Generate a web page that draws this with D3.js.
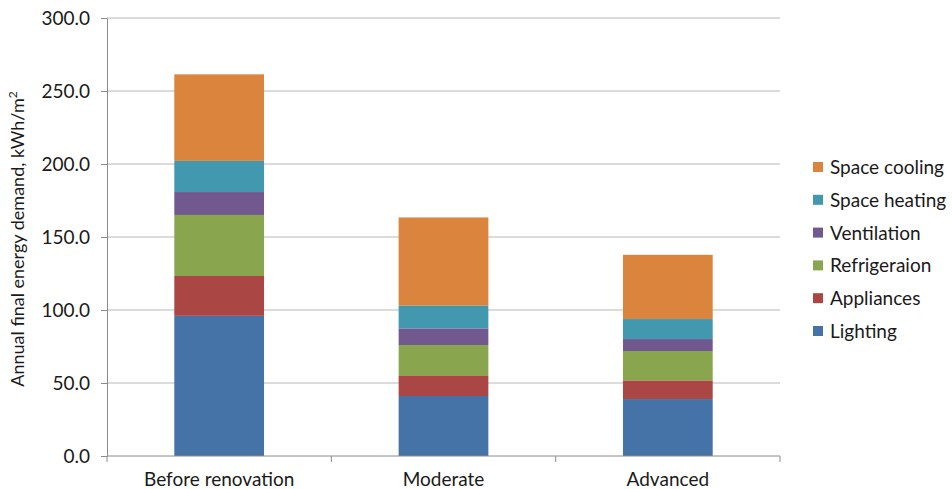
<!DOCTYPE html>
<html>
<head>
<meta charset="utf-8">
<script src="https://cdn.jsdelivr.net/npm/d3@7"></script>
<style>
  html, body { margin: 0; padding: 0; background: #fff; }
  svg { display: block; font-family: Lato, "Open Sans", sans-serif; }
</style>
</head>
<body>
<svg id="chart" width="952" height="489"></svg>
<script>
// Scenarios and end uses (kWh/m² per year)
const categories = ["Before renovation", "Moderate", "Advanced"];
const seriesNames = ["Lighting", "Appliances", "Refrigeraion", "Ventilation", "Space heating", "Space cooling"];
const lighting     = [96.0, 41.1, 39.0];
const appliances   = [27.3, 13.7, 12.8];
const refrigeration = [41.8, 21.2, 20.1];
const ventilation  = [15.7, 11.4, 8.2];
const spaceHeating = [21.3, 15.7, 13.7];
const spaceCooling = [59.3, 60.3, 44.0];
const yTicks = [0, 50, 100, 150, 200, 250, 300];
const colors = ["#4572A7", "#AA4643", "#89A54E", "#71588F", "#4198AF", "#DB843D"];

const seriesValues = [lighting, appliances, refrigeration, ventilation, spaceHeating, spaceCooling];
const rows = categories.map((c, i) => {
  const r = { category: c };
  seriesNames.forEach((s, k) => { r[s] = seriesValues[k][i]; });
  return r;
});

const svg = d3.select("#chart");
const margin = { left: 107, right: 172, top: 18, bottom: 33 };
const W = 952, H = 489;
const textColor = "#1a1a1a";

const x = d3.scaleBand().domain(categories)
  .range([margin.left, W - margin.right]).paddingInner(0.6).paddingOuter(0.3);
const y = d3.scaleLinear().domain([0, 300]).range([H - margin.bottom, margin.top]);

// Horizontal gridlines
svg.append("g").selectAll("line").data(yTicks.filter(t => t > 0)).join("line")
  .attr("x1", margin.left).attr("x2", W - margin.right)
  .attr("y1", d => y(d)).attr("y2", d => y(d))
  .attr("stroke", "#b8b8b8").attr("stroke-width", 1);

// Y axis
const yAxis = svg.append("g").attr("transform", `translate(${margin.left},0)`)
  .call(d3.axisLeft(y).tickValues(yTicks).tickFormat(d3.format(".1f")).tickSize(6).tickSizeOuter(0));
yAxis.select(".domain").attr("stroke", "#8c8c8c");
yAxis.selectAll(".tick line").attr("stroke", "#8c8c8c");
yAxis.selectAll(".tick text").attr("font-size", 19).attr("fill", textColor)
  .attr("font-family", "Lato, 'Open Sans', sans-serif").attr("x", -17);

// Stacked bars
const stack = d3.stack().keys(seriesNames)(rows);
svg.append("g").selectAll("g").data(stack).join("g")
  .attr("fill", (d, i) => colors[i])
  .selectAll("rect").data(d => d).join("rect")
  .attr("x", d => x(d.data.category))
  .attr("width", x.bandwidth())
  .attr("y", d => y(d[1]))
  .attr("height", d => y(d[0]) - y(d[1]));

// X axis with ticks on band boundaries
const xAxisG = svg.append("g").attr("transform", `translate(0,${y(0)})`);
xAxisG.append("line").attr("x1", margin.left).attr("x2", W - margin.right)
  .attr("stroke", "#8c8c8c");
const bounds = d3.range(categories.length + 1).map(i => margin.left + i * (W - margin.left - margin.right) / categories.length);
xAxisG.selectAll("line.tk").data(bounds).join("line").attr("class", "tk")
  .attr("x1", d => d).attr("x2", d => d).attr("y1", 0).attr("y2", 6)
  .attr("stroke", "#8c8c8c");
xAxisG.selectAll("text").data(categories).join("text")
  .attr("x", d => x(d) + x.bandwidth() / 2).attr("y", 30)
  .attr("text-anchor", "middle").attr("font-size", 19).attr("fill", textColor)
  .text(d => d);

// Y axis title
svg.append("text")
  .attr("transform", `translate(24,${y(150) + 2}) rotate(-90)`)
  .attr("text-anchor", "middle").attr("font-size", 18).attr("fill", textColor)
  .html("Annual final energy demand, kWh/m<tspan dy='-7' font-size='12'>2</tspan>");

// Legend (top to bottom: reverse stack order)
const legendItems = seriesNames.map((s, i) => ({ name: s, color: colors[i] })).reverse();
const lg = svg.append("g").attr("transform", "translate(813,167)");
const row = lg.selectAll("g").data(legendItems).join("g")
  .attr("transform", (d, i) => `translate(0,${i * 32.8})`);
row.append("rect").attr("x", 0).attr("y", -5).attr("width", 10).attr("height", 10)
  .attr("fill", d => d.color);
row.append("text").attr("x", 17).attr("y", 7).attr("font-size", 19).attr("fill", textColor)
  .text(d => d.name);
</script>
</body>
</html>
